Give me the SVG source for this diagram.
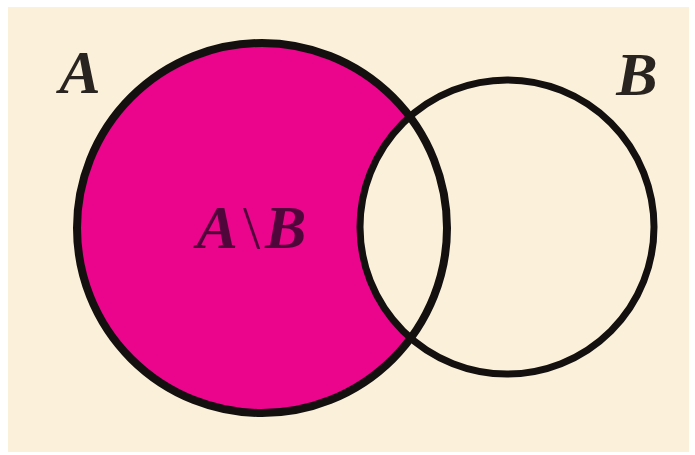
<svg xmlns="http://www.w3.org/2000/svg" width="695" height="455" viewBox="0 0 695 455">
<style>
.lbl{font-family:"Liberation Serif","Times New Roman",serif;font-style:italic;font-weight:bold;font-size:62px;fill:#2a2420}
.ring{fill:none;stroke:#141010}
</style>
<rect x="0" y="0" width="695" height="455" fill="#ffffff"/>
<rect x="8" y="7" width="681" height="445" fill="#fbf1da"/>
<g id="fills">
<circle cx="262" cy="228" r="185" fill="#ea058c"/>
<circle cx="507" cy="227" r="147" fill="#fbf1da"/>
</g>
<g id="setA">
<circle class="ring" cx="262" cy="228" r="185" stroke-width="8"/>
<text class="lbl" x="80" y="93" text-anchor="middle">A</text>
</g>
<g id="setB">
<circle class="ring" cx="507" cy="227" r="147" stroke-width="7"/>
<text class="lbl" x="637" y="95" text-anchor="middle">B</text>
</g>
<g id="diff">
<text class="lbl" x="254" y="248" text-anchor="middle" letter-spacing="5" style="fill:#50063a">A<tspan font-weight="normal" font-style="normal">\</tspan>B</text>
</g>
</svg>
